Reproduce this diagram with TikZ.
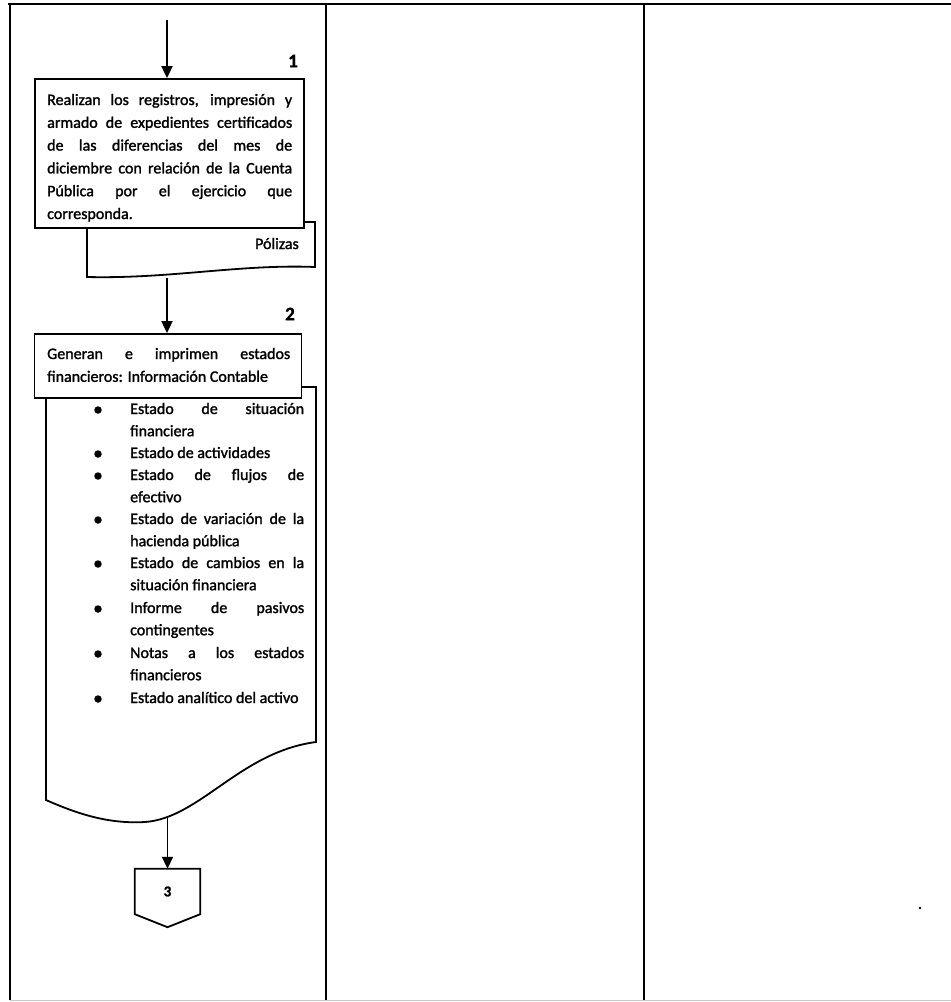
\documentclass[tikz,border=0pt]{standalone}
\usepackage{fontspec}
\setmainfont{Carlito}[FakeBold=1.5]
\newfontfamily\heavy{Carlito}[FakeBold=1.5]
\usetikzlibrary{arrows.meta,calc}
\begin{document}
\begin{tikzpicture}[x=1pt,y=-1pt,
  frame/.style={line width=2.2pt},
  boxst/.style={draw, line width=1.8pt, fill=white},
  txt/.style={font=\heavy\fontsize{16}{22.8}\selectfont, text width=#1, align=justify, inner sep=0pt, anchor=base west},
  itm/.style={font=\heavy\fontsize{16}{22.2}\selectfont, text width=174pt, align=justify, inner sep=0pt, anchor=base west},
  bul/.style={circle, fill, inner sep=0pt, minimum size=7.5pt},
  num/.style={font=\bfseries\fontsize{19}{19}\selectfont, inner sep=0pt},
  flow/.style={line width=1.8pt, -{Triangle[length=12pt,width=11pt]}}]
\useasboundingbox (0,0) rectangle (951,1002);
% frame
\draw[frame] (8,4) -- (951,4);
\draw[frame] (10,4) -- (10,1000);
\draw[frame] (326,4) -- (326,1000);
\draw[frame] (644,4) -- (644,1000);
\draw[gray!45, line width=1pt] (10,1000) -- (951,1000);
\fill (920,908) circle (1.3);
% document 1 (Polizas)
\draw[boxst] (87,222) -- (315,222) -- (315,267) .. controls (240,264) and (170,279) .. (87,277) -- cycle;
\node[boxst, minimum width=269pt, minimum height=149pt, inner sep=0pt] (b1) at (169.5,153.5) {};
\node[txt=245pt] (t1) at (47,105) {Realizan los registros, impresión y\linebreak armado de expedientes certificados\linebreak de las diferencias del mes de\linebreak diciembre con relación de la Cuenta\linebreak Pública por el ejercicio que\linebreak corresponda.};
\node[font=\heavy\fontsize{16}{16}\selectfont, inner sep=0pt, anchor=base east] (pol) at (299,249) {Pólizas};
\node[num] (n1) at (293,61) {1};
\node[num] (n2) at (290,314) {2};
% document 2
\draw[boxst] (46,387) -- (316,387) -- (316,742) .. controls (240,752) and (200,818) .. (145,822) .. controls (110,824) and (80,815) .. (46,800) -- cycle;
\node[boxst, minimum width=267pt, minimum height=64pt, inner sep=0pt] (b2) at (168,366) {};
\node[txt=243pt] (t2) at (47,359) {Generan e imprimen estados\linebreak financieros: Información Contable};
% bullet list
\node[bul] (u1) at (98,410) {};
\node[itm] (i1) at (130,414) {Estado de situación\linebreak financiera};
\node[bul] (u2) at (98,454) {};
\node[itm] (i2) at (130,458) {Estado de actividades};
\node[bul] (u3) at (98,476) {};
\node[itm] (i3) at (130,480) {Estado de flujos de\linebreak efectivo};
\node[bul] (u4) at (98,520) {};
\node[itm] (i4) at (130,524) {Estado de variación de la\linebreak hacienda pública};
\node[bul] (u5) at (98,564) {};
\node[itm] (i5) at (130,568) {Estado de cambios en la\linebreak situación financiera};
\node[bul] (u6) at (98,609) {};
\node[itm] (i6) at (130,613) {Informe de pasivos\linebreak contingentes};
\node[bul] (u7) at (98,654) {};
\node[itm] (i7) at (130,658) {Notas a los estados\linebreak financieros};
\node[bul] (u8) at (98,699) {};
\node[itm] (i8) at (130,703) {Estado analítico del activo};
% off-page connector
\node[minimum width=65pt, minimum height=45pt, inner sep=0pt] (c3) at (167.5,891.5) {};
\draw[line width=1.8pt, fill=white] (c3.north west) -- (c3.north east) -- (c3.south east) -- ($(c3.south)+(0,13)$) -- (c3.south west) -- cycle;
\node[font=\bfseries\fontsize{15}{15}\selectfont, inner sep=0pt] (n3) at (c3.center) {3};
% connectors
\coordinate (s0) at (167,20);
\draw[flow] (s0) -- (s0 |- b1.north);
\coordinate (d1b) at (167,278);
\draw[flow] (d1b) -- (d1b |- b2.north);
\coordinate (d2b) at (167.5,817);
\draw[flow] (d2b) -- (c3.north);
\end{tikzpicture}
\end{document}
